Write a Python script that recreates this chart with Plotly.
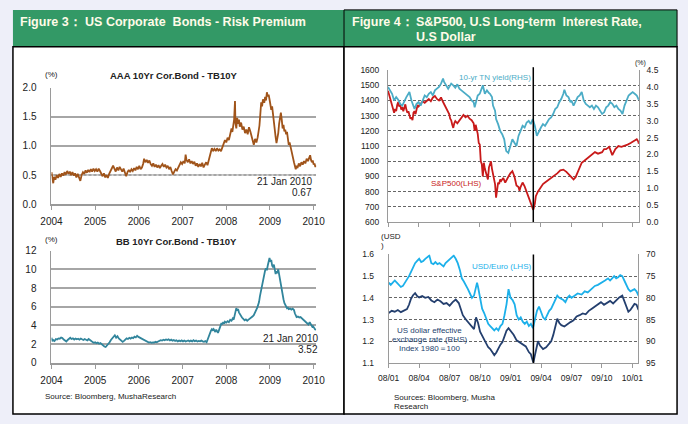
import plotly.graph_objects as go

# ---------------- data ----------------
aaa = [
 (2004.00,0.55),(2004.02,0.42),(2004.04,0.36),(2004.06,0.47),(2004.09,0.42),(2004.12,0.50),(2004.15,0.45),
 (2004.18,0.52),(2004.21,0.47),(2004.24,0.53),(2004.27,0.49),(2004.30,0.55),(2004.33,0.51),(2004.36,0.57),
 (2004.39,0.52),(2004.42,0.56),(2004.45,0.50),(2004.48,0.55),(2004.51,0.49),(2004.54,0.53),(2004.57,0.46),
 (2004.60,0.52),(2004.63,0.44),(2004.66,0.40),(2004.69,0.50),(2004.72,0.55),(2004.75,0.52),(2004.78,0.58),
 (2004.81,0.54),(2004.84,0.59),(2004.87,0.55),(2004.90,0.60),(2004.93,0.56),(2004.96,0.61),(2004.99,0.57),
 (2005.02,0.60),(2005.05,0.56),(2005.08,0.61),(2005.11,0.57),(2005.14,0.52),(2005.17,0.48),(2005.20,0.53),
 (2005.23,0.46),(2005.26,0.50),(2005.29,0.45),(2005.32,0.52),(2005.35,0.56),(2005.38,0.62),(2005.41,0.66),
 (2005.44,0.61),(2005.47,0.56),(2005.50,0.63),(2005.53,0.58),(2005.56,0.64),(2005.59,0.59),(2005.62,0.56),
 (2005.65,0.61),(2005.68,0.52),(2005.71,0.48),(2005.74,0.55),(2005.77,0.59),(2005.80,0.55),(2005.83,0.60),
 (2005.86,0.57),(2005.89,0.62),(2005.92,0.58),(2005.95,0.64),(2005.98,0.60),(2006.01,0.66),(2006.04,0.60),
 (2006.07,0.63),(2006.10,0.70),(2006.12,0.78),(2006.15,0.72),(2006.18,0.76),(2006.21,0.71),(2006.24,0.75),
 (2006.27,0.69),(2006.30,0.66),(2006.33,0.70),(2006.36,0.64),(2006.39,0.68),(2006.42,0.63),(2006.45,0.67),
 (2006.48,0.62),(2006.51,0.66),(2006.54,0.69),(2006.57,0.64),(2006.60,0.68),(2006.63,0.63),(2006.66,0.66),
 (2006.69,0.60),(2006.72,0.64),(2006.75,0.57),(2006.78,0.51),(2006.81,0.56),(2006.84,0.60),(2006.87,0.58),
 (2006.90,0.63),(2006.93,0.68),(2006.96,0.72),(2006.99,0.69),(2007.02,0.74),(2007.05,0.70),(2007.07,0.85),
 (2007.09,0.76),(2007.12,0.72),(2007.15,0.77),(2007.18,0.70),(2007.21,0.74),(2007.24,0.69),(2007.27,0.73),
 (2007.30,0.66),(2007.33,0.70),(2007.36,0.64),(2007.39,0.69),(2007.42,0.65),(2007.45,0.71),(2007.48,0.63),
 (2007.51,0.68),(2007.54,0.72),(2007.57,0.67),(2007.60,0.76),(2007.62,0.82),(2007.65,0.88),(2007.67,0.96),
 (2007.70,0.92),(2007.73,0.95),(2007.76,0.91),(2007.79,0.96),(2007.82,0.92),(2007.85,0.94),(2007.88,0.91),
 (2007.91,0.98),(2007.94,1.05),(2007.97,1.10),(2008.00,1.06),(2008.03,1.14),(2008.06,1.10),(2008.09,1.22),
 (2008.12,1.30),(2008.14,1.24),(2008.16,1.38),(2008.18,1.45),(2008.20,1.77),(2008.21,1.40),(2008.23,1.30),
 (2008.25,1.48),(2008.27,1.38),(2008.29,1.45),(2008.31,1.33),(2008.34,1.40),(2008.37,1.28),(2008.40,1.33),
 (2008.43,1.22),(2008.46,1.28),(2008.49,1.20),(2008.52,1.32),(2008.55,1.25),(2008.58,1.15),(2008.61,1.08),
 (2008.63,1.02),(2008.66,1.12),(2008.69,1.06),(2008.72,1.15),(2008.74,1.22),(2008.76,1.35),(2008.78,1.55),
 (2008.80,1.75),(2008.82,1.68),(2008.84,1.80),(2008.87,1.74),(2008.89,1.84),(2008.91,1.78),(2008.93,1.92),
 (2008.95,1.85),(2008.97,1.88),(2008.99,1.80),(2009.01,1.72),(2009.03,1.62),(2009.05,1.68),(2009.07,1.52),
 (2009.09,1.38),(2009.11,1.25),(2009.13,1.15),(2009.15,1.05),(2009.17,1.12),(2009.19,1.22),(2009.21,1.38),
 (2009.23,1.48),(2009.25,1.57),(2009.27,1.45),(2009.29,1.30),(2009.31,1.36),(2009.33,1.25),(2009.35,1.28),
 (2009.37,1.20),(2009.39,1.24),(2009.41,1.12),(2009.43,1.02),(2009.45,1.06),(2009.47,0.98),(2009.49,0.92),
 (2009.51,0.85),(2009.53,0.78),(2009.55,0.72),(2009.57,0.66),(2009.59,0.60),(2009.61,0.66),(2009.63,0.62),
 (2009.66,0.70),(2009.69,0.65),(2009.72,0.72),(2009.75,0.68),(2009.78,0.74),(2009.81,0.70),(2009.84,0.78),
 (2009.87,0.74),(2009.90,0.80),(2009.92,0.84),(2009.94,0.76),(2009.96,0.72),(2009.98,0.75),(2010.00,0.68),
 (2010.02,0.70),(2010.04,0.64),(2010.05,0.67),
]

bb = [
 (2004.00,2.70),(2004.02,2.30),(2004.04,2.45),(2004.07,2.35),(2004.10,2.55),(2004.13,2.50),(2004.16,2.62),
 (2004.19,2.58),(2004.22,2.70),(2004.25,2.65),(2004.28,2.50),(2004.31,2.40),(2004.34,2.28),(2004.37,2.45),
 (2004.40,2.60),(2004.43,2.68),(2004.46,2.55),(2004.49,2.62),(2004.52,2.50),(2004.55,2.60),(2004.58,2.52),
 (2004.61,2.58),(2004.64,2.48),(2004.67,2.60),(2004.70,2.52),(2004.73,2.45),(2004.76,2.55),(2004.79,2.48),
 (2004.82,2.40),(2004.85,2.55),(2004.88,2.48),(2004.91,2.35),(2004.94,2.22),(2004.97,2.15),(2005.00,2.20),
 (2005.03,2.10),(2005.06,2.18),(2005.09,2.05),(2005.12,2.12),(2005.15,1.98),(2005.18,1.90),(2005.21,1.75),
 (2005.24,1.70),(2005.27,1.85),(2005.30,2.05),(2005.33,2.20),(2005.36,2.45),(2005.39,2.65),(2005.42,2.80),
 (2005.45,2.95),(2005.48,2.70),(2005.51,2.85),(2005.54,2.62),(2005.57,2.50),(2005.60,2.38),(2005.63,2.25),
 (2005.66,2.35),(2005.69,2.50),(2005.72,2.62),(2005.75,2.55),(2005.78,2.68),(2005.81,2.60),(2005.84,2.72),
 (2005.87,2.65),(2005.90,2.80),(2005.93,2.72),(2005.96,2.90),(2005.99,2.78),(2006.02,2.70),(2006.05,2.62),
 (2006.08,2.55),(2006.11,2.48),(2006.14,2.40),(2006.17,2.30),(2006.20,2.25),(2006.23,2.18),(2006.26,2.22),
 (2006.29,2.15),(2006.32,2.20),(2006.35,2.18),(2006.38,2.25),(2006.41,2.20),(2006.44,2.28),(2006.47,2.35),
 (2006.50,2.42),(2006.53,2.38),(2006.56,2.48),(2006.59,2.42),(2006.62,2.50),(2006.65,2.45),(2006.68,2.52),
 (2006.71,2.40),(2006.74,2.48),(2006.77,2.38),(2006.80,2.45),(2006.83,2.35),(2006.86,2.42),(2006.89,2.30),
 (2006.92,2.38),(2006.95,2.32),(2006.98,2.40),(2007.01,2.30),(2007.04,2.38),(2007.07,2.28),(2007.10,2.35),
 (2007.13,2.40),(2007.16,2.30),(2007.19,2.38),(2007.22,2.30),(2007.25,2.42),(2007.28,2.32),(2007.31,2.38),
 (2007.34,2.28),(2007.37,2.35),(2007.40,2.30),(2007.43,2.38),(2007.46,2.30),(2007.49,2.25),(2007.52,2.32),
 (2007.55,2.20),(2007.57,2.45),(2007.59,2.75),(2007.61,3.00),(2007.63,3.20),(2007.65,3.45),(2007.67,3.60),
 (2007.69,3.50),(2007.71,3.62),(2007.73,3.40),(2007.75,3.30),(2007.77,3.55),(2007.79,3.35),(2007.81,3.20),
 (2007.83,3.45),(2007.85,3.70),(2007.87,3.95),(2007.89,4.25),(2007.91,4.10),(2007.93,4.35),(2007.95,4.20),
 (2007.97,4.40),(2008.00,4.30),(2008.03,4.45),(2008.06,4.35),(2008.09,4.60),(2008.12,4.50),(2008.15,4.75),
 (2008.17,4.62),(2008.19,5.00),(2008.21,5.35),(2008.23,5.85),(2008.25,5.60),(2008.27,5.75),(2008.29,5.40),
 (2008.31,5.20),(2008.33,5.05),(2008.36,4.85),(2008.39,4.70),(2008.42,4.55),(2008.45,4.65),(2008.48,4.50),
 (2008.51,4.62),(2008.54,4.70),(2008.57,4.80),(2008.60,4.95),(2008.63,5.10),(2008.66,5.35),(2008.69,5.60),
 (2008.71,5.90),(2008.73,6.20),(2008.75,6.50),(2008.77,7.10),(2008.79,7.60),(2008.81,8.10),(2008.83,8.60),
 (2008.85,9.00),(2008.87,9.50),(2008.89,9.90),(2008.91,10.10),(2008.93,9.90),(2008.95,10.40),(2008.97,10.70),
 (2008.99,11.20),(2009.01,10.80),(2009.03,11.00),(2009.05,10.40),(2009.07,10.20),(2009.09,10.50),(2009.11,9.90),
 (2009.13,9.50),(2009.15,9.80),(2009.17,9.60),(2009.19,10.00),(2009.21,9.40),(2009.23,8.90),(2009.25,8.30),
 (2009.27,7.80),(2009.29,7.20),(2009.31,6.80),(2009.33,6.40),(2009.35,6.20),(2009.37,6.00),(2009.39,5.85),
 (2009.41,5.90),(2009.43,5.75),(2009.46,5.80),(2009.49,5.70),(2009.52,5.80),(2009.55,5.65),(2009.57,5.30),
 (2009.59,5.00),(2009.61,4.90),(2009.64,4.95),(2009.67,4.85),(2009.70,4.90),(2009.73,4.75),(2009.76,4.60),
 (2009.79,4.45),(2009.82,4.30),(2009.85,4.20),(2009.88,4.10),(2009.91,4.35),(2009.93,4.20),(2009.95,4.05),
 (2009.97,3.85),(2009.99,3.90),(2010.01,3.70),(2010.03,3.60),(2010.05,3.52),
]

# months since 2008-01-01
spx = [
 (0.0,1465),(0.1,1440),(0.2,1415),(0.3,1395),(0.4,1380),(0.5,1340),(0.6,1320),(0.7,1345),(0.8,1330),(0.9,1370),
 (1.0,1390),(1.1,1360),(1.2,1370),(1.3,1340),(1.4,1355),(1.5,1330),(1.6,1350),(1.7,1375),(1.8,1340),(1.9,1320),
 (2.0,1330),(2.1,1300),(2.2,1280),(2.3,1290),(2.4,1270),(2.5,1320),(2.6,1330),(2.7,1310),(2.8,1350),(2.9,1370),
 (3.0,1360),(3.2,1380),(3.4,1395),(3.6,1385),(3.8,1400),(4.0,1410),(4.2,1395),(4.4,1420),(4.6,1430),(4.8,1410),
 (5.0,1400),(5.2,1420),(5.4,1390),(5.6,1360),(5.8,1340),(6.0,1310),(6.1,1280),(6.2,1270),(6.3,1240),(6.4,1220),
 (6.5,1250),(6.6,1265),(6.8,1250),(7.0,1270),(7.2,1290),(7.4,1305),(7.6,1290),(7.8,1300),(8.0,1280),(8.2,1270),
 (8.4,1250),(8.5,1200),(8.6,1240),(8.7,1215),(8.8,1180),(8.9,1120),(9.0,1110),(9.1,1000),(9.2,980),(9.3,900),
 (9.4,990),(9.5,950),(9.6,930),(9.7,900),(9.8,880),(9.9,960),(10.0,980),(10.1,1000),(10.2,950),(10.3,920),
 (10.4,870),(10.5,850),(10.6,760),(10.7,820),(10.8,860),(10.9,850),(11.0,880),(11.1,870),(11.3,890),(11.5,860),
 (11.7,890),(11.9,910),(12.0,920),(12.2,935),(12.4,900),(12.6,840),(12.8,830),(12.9,805),(13.0,830),(13.2,860),
 (13.4,835),(13.6,800),(13.8,760),(14.0,730),(14.1,700),(14.25,680),(14.4,720),(14.5,770),(14.7,800),(14.9,820),
 (15.0,830),(15.2,850),(15.4,860),(15.6,870),(15.8,880),(16.0,885),(16.3,905),(16.6,920),(16.9,940),(17.2,945),
 (17.5,930),(17.8,910),(18.0,900),(18.2,880),(18.4,895),(18.6,930),(18.8,960),(19.0,990),(19.2,1000),(19.4,1010),
 (19.6,1020),(19.8,1030),(20.0,1040),(20.3,1060),(20.6,1050),(21.0,1060),(21.2,1080),(21.4,1080),(21.7,1095),
 (22.0,1040),(22.3,1080),(22.6,1100),(22.9,1095),(23.2,1100),(23.5,1110),(23.8,1120),(24.0,1130),(24.2,1140),
 (24.4,1145),(24.55,1130),(24.6,1115),
]

tn_yield = [
 (0.0,4.00),(0.2,3.90),(0.4,3.80),(0.6,3.60),(0.8,3.70),(1.0,3.62),(1.2,3.50),(1.4,3.45),(1.6,3.60),(1.8,3.70),
 (2.0,3.80),(2.1,3.85),(2.3,3.60),(2.5,3.45),(2.6,3.35),(2.8,3.50),(3.0,3.55),(3.2,3.45),(3.4,3.62),(3.6,3.75),
 (3.8,3.70),(4.0,3.80),(4.2,3.85),(4.4,3.75),(4.6,3.90),(4.8,3.95),(5.0,4.00),(5.2,4.10),(5.4,4.25),(5.5,4.15),
 (5.7,4.05),(5.9,3.95),(6.0,4.00),(6.2,4.10),(6.4,4.05),(6.6,3.98),(6.8,4.08),(7.0,3.95),(7.2,3.90),(7.4,3.85),
 (7.6,3.80),(7.8,3.75),(8.0,3.70),(8.2,3.60),(8.4,3.55),(8.5,3.40),(8.6,3.55),(8.8,3.75),(9.0,3.80),(9.2,3.95),
 (9.3,4.05),(9.5,3.80),(9.7,3.90),(9.9,3.82),(10.0,3.80),(10.2,3.70),(10.3,3.45),(10.5,3.30),(10.6,3.05),(10.8,2.90),
 (11.0,2.70),(11.2,2.60),(11.4,2.45),(11.5,2.25),(11.6,2.10),(11.8,2.05),(12.0,2.25),(12.2,2.45),(12.4,2.35),(12.6,2.25),
 (12.8,2.55),(13.0,2.70),(13.2,2.85),(13.4,2.80),(13.6,2.95),(13.8,3.00),(14.0,2.90),(14.2,3.05),(14.4,2.85),(14.6,2.55),
 (14.8,2.70),(15.0,2.80),(15.2,2.90),(15.4,2.85),(15.6,2.95),(15.8,3.05),(16.0,3.10),(16.2,3.20),(16.4,3.35),(16.6,3.40),
 (16.8,3.55),(17.0,3.65),(17.2,3.80),(17.3,3.92),(17.5,3.75),(17.7,3.70),(17.9,3.55),(18.0,3.60),(18.2,3.45),(18.4,3.60),
 (18.6,3.70),(18.8,3.75),(19.0,3.85),(19.2,3.60),(19.4,3.50),(19.6,3.45),(19.8,3.40),(20.0,3.45),(20.2,3.35),(20.4,3.45),
 (20.6,3.40),(20.8,3.30),(21.0,3.20),(21.2,3.25),(21.4,3.40),(21.6,3.45),(21.8,3.55),(22.0,3.50),(22.2,3.40),(22.4,3.45),
 (22.6,3.35),(22.8,3.30),(23.0,3.20),(23.2,3.45),(23.4,3.60),(23.6,3.75),(23.8,3.80),(24.0,3.85),(24.2,3.80),(24.4,3.75),
 (24.6,3.62),
]

usd_euro = [
 (0.0,1.47),(0.2,1.46),(0.4,1.47),(0.6,1.48),(0.8,1.47),(1.0,1.46),(1.2,1.45),(1.4,1.455),(1.6,1.47),(1.8,1.48),
 (2.0,1.50),(2.2,1.52),(2.4,1.54),(2.6,1.56),(2.8,1.57),(3.0,1.58),(3.2,1.565),(3.4,1.57),(3.6,1.58),(3.8,1.59),
 (4.0,1.595),(4.2,1.56),(4.4,1.555),(4.6,1.565),(4.8,1.555),(5.0,1.56),(5.2,1.55),(5.4,1.545),(5.6,1.56),(5.8,1.57),
 (6.0,1.575),(6.2,1.585),(6.4,1.595),(6.6,1.58),(6.8,1.56),(7.0,1.53),(7.2,1.49),(7.4,1.475),(7.6,1.46),(7.8,1.44),
 (8.0,1.42),(8.2,1.40),(8.4,1.41),(8.6,1.445),(8.7,1.47),(8.8,1.45),(9.0,1.40),(9.2,1.35),(9.4,1.33),(9.6,1.30),
 (9.8,1.28),(10.0,1.27),(10.2,1.26),(10.4,1.25),(10.6,1.26),(10.8,1.25),(11.0,1.27),(11.2,1.28),(11.4,1.32),(11.6,1.37),
 (11.8,1.44),(11.9,1.42),(12.0,1.40),(12.2,1.39),(12.4,1.37),(12.6,1.32),(12.8,1.30),(13.0,1.31),(13.2,1.29),(13.4,1.28),
 (13.6,1.29),(13.8,1.27),(14.0,1.28),(14.2,1.26),(14.4,1.30),(14.6,1.34),(14.8,1.36),(15.0,1.33),(15.2,1.31),(15.4,1.30),
 (15.6,1.32),(15.8,1.34),(16.0,1.35),(16.2,1.37),(16.4,1.39),(16.6,1.41),(16.8,1.40),(17.0,1.395),(17.2,1.39),(17.4,1.38),
 (17.6,1.40),(17.8,1.41),(18.0,1.40),(18.3,1.41),(18.6,1.42),(19.0,1.415),(19.3,1.43),(19.6,1.425),(20.0,1.44),(20.3,1.455),
 (20.6,1.46),(21.0,1.47),(21.3,1.48),(21.6,1.49),(21.8,1.48),(22.0,1.49),(22.2,1.50),(22.4,1.49),(22.6,1.495),(22.8,1.505),
 (23.0,1.50),(23.2,1.48),(23.4,1.46),(23.6,1.44),(23.8,1.43),(24.0,1.435),(24.2,1.44),(24.4,1.43),(24.6,1.41),
]

usd_index = [
 (0.0,83.5),(0.3,83.0),(0.6,83.2),(0.9,82.8),(1.2,83.3),(1.5,83.0),(1.8,82.6),(2.0,81.6),(2.2,80.2),(2.4,79.4),
 (2.6,78.9),(2.8,79.6),(3.0,79.9),(3.3,79.6),(3.6,80.0),(3.9,79.8),(4.2,80.6),(4.5,81.0),(4.8,80.4),(5.1,80.8),
 (5.4,81.4),(5.7,81.2),(6.0,81.8),(6.3,81.0),(6.6,80.4),(6.9,81.2),(7.1,82.5),(7.3,84.0),(7.6,85.0),(7.9,85.8),
 (8.1,86.4),(8.4,87.2),(8.6,84.5),(8.8,85.8),(9.0,87.8),(9.2,88.8),(9.4,89.6),(9.6,90.6),(9.8,91.4),(10.0,91.8),
 (10.2,92.4),(10.4,93.2),(10.6,92.6),(10.8,91.5),(11.0,90.8),(11.2,90.2),(11.4,89.0),(11.6,87.6),(11.8,87.0),(12.0,87.6),
 (12.3,88.5),(12.6,89.8),(12.9,90.3),(13.2,90.8),(13.5,91.2),(13.8,92.5),(14.0,93.0),(14.15,94.2),(14.25,94.9),(14.4,93.2),
 (14.6,90.6),(14.7,90.0),(14.9,91.0),(15.2,91.8),(15.5,91.4),(15.8,90.6),(16.0,90.0),(16.2,88.6),(16.4,87.0),(16.6,84.8),
 (16.8,85.8),(17.0,86.3),(17.3,86.6),(17.6,86.0),(17.9,85.6),(18.2,85.2),(18.5,84.3),(18.8,84.0),(19.1,83.6),(19.4,83.8),
 (19.7,83.0),(20.0,82.5),(20.3,82.0),(20.6,81.6),(20.9,81.0),(21.2,81.6),(21.5,81.2),(21.8,80.7),(22.1,81.3),(22.4,80.5),
 (22.7,79.9),(23.0,79.5),(23.2,80.8),(23.4,82.2),(23.6,83.2),(23.8,82.8),(24.0,82.2),(24.2,81.4),(24.4,81.6),(24.6,82.8),
]

year_ticks = [2004, 2005, 2006, 2007, 2008, 2009, 2010]
month_ticks = [0, 3, 6, 9, 12, 15, 18, 21, 24]
month_labels = ["08/01", "08/04", "08/07", "08/10", "09/01", "09/04", "09/07", "09/10", "10/01"]
event_month = 14.25   # 2009-03-09, S&P500 low
aaa_last = ["21 Jan 2010", "0.67"]
bb_last = ["21 Jan 2010", "3.52"]

# ---------------- styling ----------------
W, H = 688, 424
FONT = "Liberation Sans, Arial, sans-serif"
GREEN = "#339966"
HEAD_TXT = "#fffbe8"
C_AAA = "#a0541a"
C_BB = "#31859c"
C_SPX = "#c81a1a"
C_TN = "#4bacc6"
C_EUR = "#1cb0ea"
C_IDX = "#243f6e"


def dx(a, b):
    return [a / W, b / W]


def dy(top, bottom):
    return [1 - bottom / H, 1 - top / H]


def txt(x, y, s, size=9, color="#222", xanchor="center", bold=False):
    return dict(xref="paper", yref="paper", x=x / W, y=1 - y / H,
                text=f"<b>{s}</b>" if bold else s, showarrow=False,
                xanchor=xanchor, yanchor="middle",
                font=dict(size=size, color=color, family=FONT))


def line_trace(data, color, xa, ya):
    return go.Scatter(x=[p[0] for p in data], y=[p[1] for p in data], mode="lines",
                      line=dict(color=color, width=1.8), xaxis=xa, yaxis=ya,
                      hoverinfo="skip", showlegend=False)


fig = go.Figure()
fig.add_trace(line_trace(aaa, C_AAA, "x", "y"))
fig.add_trace(line_trace(bb, C_BB, "x2", "y2"))
fig.add_trace(line_trace(tn_yield, C_TN, "x3", "y4"))
fig.add_trace(line_trace(spx, C_SPX, "x3", "y3"))
fig.add_trace(line_trace(usd_euro, C_EUR, "x4", "y5"))
fig.add_trace(line_trace(usd_index, C_IDX, "x4", "y6"))

GRAY_AX = "#9a9a9a"
left_x = dict(range=[2004, 2010.06], tickvals=year_ticks, ticktext=[str(v) for v in year_ticks],
              showgrid=False, zeroline=False, showline=True, linecolor=GRAY_AX, linewidth=2,
              ticks="outside", ticklen=4, tickcolor=GRAY_AX, tickfont=dict(size=10, color="#222"),
              ticklabelstandoff=3, fixedrange=True)
left_y = dict(showgrid=True, gridcolor="#a6a6a6", gridwidth=2, zeroline=False, showline=True,
              linecolor=GRAY_AX, linewidth=1, ticks="", tickfont=dict(size=10, color="#222"),
              ticklabelstandoff=12, fixedrange=True)
dash_grid = dict(showgrid=True, gridcolor="#666666", gridwidth=1, griddash="3px,2px")
right_ax = dict(zeroline=False, showline=True, linecolor=GRAY_AX, linewidth=1, ticks="",
                tickfont=dict(size=8.5, color="#222"), fixedrange=True)

fig.update_layout(
    width=W, height=H, margin=dict(l=0, r=0, t=0, b=0),
    paper_bgcolor="#eeeff9", plot_bgcolor="white", showlegend=False,
    font=dict(family=FONT, size=10, color="#222"),
    xaxis=dict(domain=dx(41.7, 314.4), anchor="y", **left_x),
    yaxis=dict(domain=dy(84, 204), anchor="x", range=[0, 2.0], dtick=0.5, tickformat=".1f", **left_y),
    xaxis2=dict(domain=dx(41.7, 314.4), anchor="y2", **left_x),
    yaxis2=dict(domain=dy(251.7, 367.3), anchor="x2", range=[0, 12], dtick=2, **left_y),
    xaxis3=dict(domain=dx(388.3, 646.7), anchor="y3", range=[0, 24.61], tickvals=month_ticks,
                showticklabels=False, showgrid=False, zeroline=False, showline=True,
                linecolor=GRAY_AX, ticks="outside", ticklen=4, tickcolor=GRAY_AX, fixedrange=True),
    yaxis3=dict(domain=dy(66, 222.3), anchor="x3", range=[600, 1600], dtick=100,
                ticklabelstandoff=6, **dash_grid, **right_ax),
    yaxis4=dict(overlaying="y3", side="right", anchor="x3", range=[0, 4.5], dtick=0.5,
                tickformat=".1f", showgrid=False, ticklabelstandoff=5, **right_ax),
    xaxis4=dict(domain=dx(389, 646), anchor="y5", range=[0, 24.57], tickvals=month_ticks,
                ticktext=month_labels, showgrid=False, zeroline=False, showline=True,
                linecolor=GRAY_AX, ticks="outside", ticklen=4, tickcolor=GRAY_AX,
                tickfont=dict(size=8.5, color="#222"), ticklabelstandoff=3, fixedrange=True),
    yaxis5=dict(domain=dy(255.7, 367.3), anchor="x4", range=[1.1, 1.6], dtick=0.1,
                tickformat=".1f", ticklabelstandoff=12, **dash_grid, **right_ax),
    yaxis6=dict(overlaying="y5", side="right", anchor="x4", range=[95, 70],
                tickvals=[70, 75, 80, 85, 90, 95], showgrid=False, ticklabelstandoff=5, **right_ax),
)

shapes = [
    # panels (paper pixels)
    dict(type="rect", xref="paper", yref="paper", x0=2 / W, x1=343 / W, y0=1 - 42 / H, y1=1 - 4 / H,
         fillcolor=GREEN, line=dict(width=0), layer="below"),
    dict(type="rect", xref="paper", yref="paper", x0=343 / W, x1=686 / W, y0=1 - 42 / H, y1=1 - 4 / H,
         fillcolor=GREEN, line=dict(color="black", width=1), layer="below"),
    dict(type="rect", xref="paper", yref="paper", x0=2 / W, x1=343 / W, y0=1 - 420 / H, y1=1 - 42 / H,
         fillcolor="white", line=dict(color="black", width=1.5), layer="below"),
    dict(type="rect", xref="paper", yref="paper", x0=343 / W, x1=686 / W, y0=1 - 420 / H, y1=1 - 42 / H,
         fillcolor="white", line=dict(color="black", width=1.5), layer="below"),
    # light dotted overlay on AAA 0.5 gridline
    dict(type="line", xref="x", yref="y", x0=2004, x1=2010.06, y0=0.5, y1=0.5,
         line=dict(color="#f2f2f2", width=1, dash="2px,3px"), layer="between"),
    # event lines
    dict(type="line", xref="x3", yref="paper", x0=event_month, x1=event_month,
         y0=1 - 222.3 / H, y1=1 - 63 / H, line=dict(color="black", width=1.5)),
    dict(type="line", xref="x4", yref="paper", x0=event_month, x1=event_month,
         y0=1 - 367.3 / H, y1=1 - 255.7 / H, line=dict(color="black", width=1.5)),
]

annotations = [
    txt(7, 16, "Figure 3： US Corporate  Bonds - Risk Premium", 12.5, HEAD_TXT, "left", True),
    txt(349, 16, "Figure 4：", 12.5, HEAD_TXT, "left", True),
    txt(415, 16, "S&P500, U.S Long-term  Interest Rate,", 12.5, HEAD_TXT, "left", True),
    txt(415, 32, "U.S Dollar", 12.5, HEAD_TXT, "left", True),
    txt(42, 71, "(%)", 8),
    txt(168, 72, "AAA 10Yr Cor.Bond - TB10Y", 9.5, "#222", "center", True),
    txt(312, 181, aaa_last[0], 10, "#222", "right"),
    txt(312, 192, aaa_last[1], 10, "#222", "right"),
    txt(42, 240, "(%)", 8),
    txt(170, 242, "BB 10Yr Cor.Bond - TB10Y", 9.5, "#222", "center", True),
    txt(318, 342, bb_last[0], 10, "#222", "right"),
    txt(318, 353, bb_last[1], 10, "#222", "right"),
    txt(33, 402, "Source: Bloomberg, MushaResearch", 8, "#222", "left"),
    txt(648, 59, "(%)", 7),
    txt(498, 74, "10-yr TN yield(RHS)", 8, C_TN),
    txt(459, 183, "S&P500(LHS)", 8, C_SPX),
    txt(379, 237, "(USD", 8, "#222", "left"),
    txt(379, 246, ")", 8, "#222", "left"),
    txt(505, 268, "USD/Euro (LHS)", 8, C_EUR),
    txt(431, 334, "US dollar effective", 8, C_IDX),
    txt(431, 343, "exchange rate (RHS)", 8, C_IDX),
    txt(431, 352, "Index 1980＝100", 8, C_IDX),
    txt(392, 403, "Sources: Bloomberg, Musha", 8, "#222", "left"),
    txt(392, 412, "Research", 8, "#222", "left"),
]

fig.update_layout(shapes=shapes, annotations=annotations)
fig.write_html("out.html")
